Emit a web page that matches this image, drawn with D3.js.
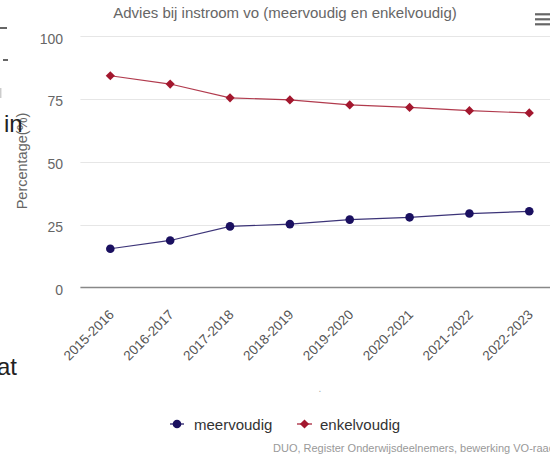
<!DOCTYPE html>
<html>
<head>
<meta charset="utf-8">
<script src="https://cdn.jsdelivr.net/npm/d3@7"></script>
<style>
  html, body { margin: 0; padding: 0; background: #fff; overflow: hidden; }
  svg { display: block; font-family: 'Liberation Sans', Arial, Helvetica, sans-serif; }
</style>
</head>
<body>
<svg id="chart" width="550" height="455"></svg>
<script>
const categories = ['2015-2016', '2016-2017', '2017-2018', '2018-2019', '2019-2020', '2020-2021', '2021-2022', '2022-2023'];
const meervoudig = [15.4, 18.7, 24.3, 25.2, 27.0, 27.9, 29.4, 30.3];
const enkelvoudig = [84.2, 80.9, 75.4, 74.6, 72.6, 71.6, 70.3, 69.4];
const yTicks = [0, 25, 50, 75, 100];
const seriesNames = ['meervoudig', 'enkelvoudig'];
const titleText = 'Advies bij instroom vo (meervoudig en enkelvoudig)';
const yTitle = 'Percentage(%)';
const creditsText = 'DUO, Register Onderwijsdeelnemers, bewerking VO-raad';

const svg = d3.select('#chart');
const W = 550, H = 455;
const plot = { left: 80.4, right: 559.2, top: 36, bottom: 287.5 };

const x = d3.scalePoint().domain(categories).range([plot.left, plot.right]).padding(0.5);
const y = d3.scaleLinear().domain([0, 100]).range([plot.bottom, plot.top]);

const colMeer = '#1a1060';
const colEnk = '#a3172e';

// stray page artifacts on the left edge
svg.append('line').attr('x1', 0).attr('x2', 7).attr('y1', 28).attr('y2', 28).attr('stroke', '#333').attr('stroke-width', 1.5);
svg.append('line').attr('x1', 3).attr('x2', 8).attr('y1', 60).attr('y2', 60).attr('stroke', '#333').attr('stroke-width', 1.5);
svg.append('line').attr('x1', 0.7).attr('x2', 0.7).attr('y1', 88).attr('y2', 98).attr('stroke', '#ccc').attr('stroke-width', 1.5);

// title
svg.append('text').attr('x', 285).attr('y', 18).attr('text-anchor', 'middle')
  .attr('fill', '#666').attr('font-size', 15).text(titleText);

// hamburger menu
[14.3, 19.3, 24.3].forEach(yy => {
  svg.append('line').attr('x1', 535).attr('x2', 556).attr('y1', yy).attr('y2', yy)
    .attr('stroke', '#666').attr('stroke-width', 2.2);
});

// gridlines
const grid = svg.append('g');
yTicks.filter(t => t !== 0).forEach(t => {
  grid.append('line').attr('x1', plot.left).attr('x2', W).attr('y1', Math.round(y(t)) + 0.5).attr('y2', Math.round(y(t)) + 0.5)
    .attr('stroke', '#e6e6e6').attr('stroke-width', 1);
});
// x axis line
svg.append('line').attr('x1', plot.left).attr('x2', W).attr('y1', y(0)).attr('y2', y(0))
  .attr('stroke', '#888').attr('stroke-width', 1.6);

// y axis labels
const yAxis = d3.axisLeft(y).tickValues(yTicks).tickSize(0).tickPadding(0);
const gy = svg.append('g').attr('transform', `translate(${63},0)`).call(yAxis);
gy.select('.domain').remove();
gy.selectAll('text').attr('font-size', 14).attr('fill', '#666')
  .attr('font-family', "'Liberation Sans', Arial, sans-serif").attr('dy', '0.5em');

// y title
svg.append('text').attr('transform', `translate(27,161) rotate(-90)`).attr('text-anchor', 'middle')
  .attr('fill', '#666').attr('font-size', 14.5).text(yTitle);

// x axis labels
const xAxis = d3.axisBottom(x).tickSize(0).tickPadding(0);
const gx = svg.append('g').attr('transform', `translate(0,${plot.bottom})`).call(xAxis);
gx.select('.domain').remove();
gx.selectAll('text')
  .attr('font-size', 13.5).attr('fill', '#555')
  .attr('font-family', "'Liberation Sans', Arial, sans-serif")
  .attr('text-anchor', 'end')
  .attr('dy', null).attr('y', null)
  .attr('transform', 'translate(4,28) rotate(-45)');

// x axis title (a lone dot)
svg.append('text').attr('x', (plot.left + plot.right) / 2).attr('y', 392).attr('text-anchor', 'middle')
  .attr('fill', '#aaa').attr('font-size', 10).text('.');

// series
const line = d3.line().x((d, i) => x(categories[i])).y(d => y(d));
svg.append('path').datum(meervoudig).attr('d', line).attr('fill', 'none')
  .attr('stroke', colMeer).attr('stroke-width', 1.2).attr('stroke-opacity', 0.85);
svg.append('path').datum(enkelvoudig).attr('d', line).attr('fill', 'none')
  .attr('stroke', colEnk).attr('stroke-width', 1.2).attr('stroke-opacity', 0.85);

svg.append('g').selectAll('circle').data(meervoudig).join('circle')
  .attr('cx', (d, i) => x(categories[i])).attr('cy', d => y(d)).attr('r', 4.3).attr('fill', colMeer);

const diamond = (cx, cy, r) => `M${cx},${cy - r}L${cx + r},${cy}L${cx},${cy + r}L${cx - r},${cy}Z`;
svg.append('g').selectAll('path').data(enkelvoudig).join('path')
  .attr('d', (d, i) => diamond(x(categories[i]), y(d), 4.6)).attr('fill', colEnk);

// legend
const lg = svg.append('g');
lg.append('line').attr('x1', 170).attr('x2', 184).attr('y1', 424).attr('y2', 424).attr('stroke', colMeer).attr('stroke-width', 1.5).attr('stroke-opacity', 0.8);
lg.append('circle').attr('cx', 177).attr('cy', 424).attr('r', 4.3).attr('fill', colMeer);
lg.append('text').attr('x', 194).attr('y', 429.5).attr('font-size', 15).attr('fill', '#333').text(seriesNames[0]);
lg.append('line').attr('x1', 297).attr('x2', 312).attr('y1', 424).attr('y2', 424).attr('stroke', colEnk).attr('stroke-width', 1.5).attr('stroke-opacity', 0.8);
lg.append('path').attr('d', diamond(304.5, 424, 4.6)).attr('fill', colEnk);
lg.append('text').attr('x', 320).attr('y', 429.5).attr('font-size', 15).attr('fill', '#333').text(seriesNames[1]);

// credits
svg.append('text').attr('x', 273).attr('y', 452).attr('font-size', 11).attr('fill', '#999').text(creditsText);

// stray page words
svg.append('text').attr('x', 4).attr('y', 131.5).attr('font-size', 24).attr('fill', '#222').text('in');
svg.append('text').attr('x', -3).attr('y', 375).attr('font-size', 24).attr('fill', '#222').text('at');
</script>
</body>
</html>
